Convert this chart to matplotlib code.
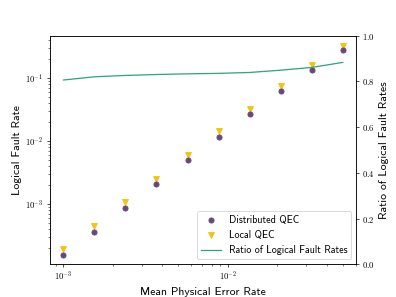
import numpy as np
import matplotlib
matplotlib.use("Agg")
import matplotlib.pyplot as plt
from matplotlib.ticker import FuncFormatter

plt.rcParams['font.family'] = 'cmss10'
plt.rcParams['mathtext.fontset'] = 'cm'
plt.rcParams['axes.unicode_minus'] = False
plt.rcParams['axes.labelsize'] = 13.6
plt.rcParams['legend.fontsize'] = 11.7

p_phys = [0.001, 0.00154, 0.00238, 0.00368, 0.00569, 0.00879, 0.0136, 0.0210, 0.0324, 0.05]
distributed = [1.55e-4, 3.58e-4, 8.6e-4, 2.08e-3, 4.9e-3, 0.0116, 0.0269, 0.0618, 0.1355, 0.279]
local = [1.92e-4, 4.41e-4, 1.06e-3, 2.47e-3, 5.97e-3, 0.0141, 0.0324, 0.0743, 0.159, 0.324]
ratio = [0.806, 0.82, 0.826, 0.830, 0.833, 0.835, 0.839, 0.849, 0.861, 0.883]

PURPLE = "#69477d"
GOLD = "#f2c40f"
GREEN = "#2fa77a"

log_fmt = FuncFormatter(lambda v, pos: r"$10^{%d}$" % int(round(np.log10(v))))
lin_fmt = FuncFormatter(lambda v, pos: r"$%.1f$" % v)

fig, ax = plt.subplots(figsize=(6.4, 4.8))
h1, = ax.plot(p_phys, distributed, "o", color=PURPLE, label="Distributed QEC")
h2, = ax.plot(p_phys, local, "v", color=GOLD, label="Local QEC", zorder=1.9)
ax.set_xscale("log"); ax.set_yscale("log")
ax.set_xlim(10**-3.085, 10**-1.218)
ax.set_ylim(1.1e-4, 0.467)
ax.xaxis.set_major_formatter(log_fmt)
ax.yaxis.set_major_formatter(log_fmt)
ax.set_xlabel("Mean Physical Error Rate")
ax.set_ylabel("Logical Fault Rate")

ax2 = ax.twinx()
h3, = ax2.plot(p_phys, ratio, "-", color=GREEN, label="Ratio of Logical Fault Rates")
ax2.set_ylim(0, 1)
ax2.set_yticks([0.0, 0.2, 0.4, 0.6, 0.8, 1.0])
ax2.yaxis.set_major_formatter(lin_fmt)
ax2.set_ylabel("Ratio of Logical Fault Rates")

ax2.legend(handles=[h1, h2, h3], loc="lower right")
fig.savefig("out.png", dpi=61.875)
